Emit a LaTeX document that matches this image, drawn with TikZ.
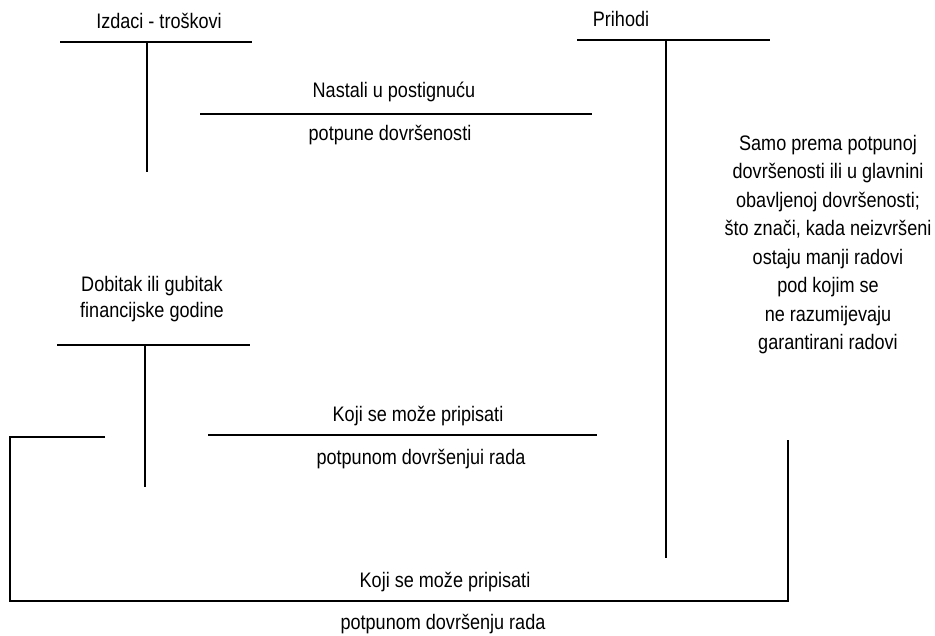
\documentclass[tikz,border=0pt]{standalone}
\usepackage{fontspec}
\setmainfont{Liberation Sans}[FakeStretch=0.86]
\begin{document}
\begin{tikzpicture}[x=1pt,y=-1pt,
  lbl/.style={anchor=base,inner sep=0pt,font=\fontsize{21}{28.5}\selectfont},
  blk/.style={lbl,align=center,anchor=north},
  rule/.style={line width=1.1pt,line cap=butt}]
\useasboundingbox[fill=white] (0,0) rectangle (935,635);

% headings and labels
\node[lbl] (izdaci)  at (159,28)  {Izdaci - troškovi};
\node[lbl] (prihodi) at (621,26)  {Prihodi};
\node[lbl] (nastali) at (394,97)  {Nastali u postignuću};
\node[lbl] (potpune) at (390,140) {potpune dovršenosti};
\node[blk] (samo)    at (828,135) {Samo prema potpunoj\\dovršenosti ili u glavnini\\obavljenoj dovršenosti;\\što znači, kada neizvršeni\\ostaju manji radovi\\pod kojim se\\ne razumijevaju\\garantirani radovi};
\node[lbl] (dobitak) at (152,291) {Dobitak ili gubitak};
\node[lbl] (financ)  at (152,317) {financijske godine};
\node[lbl] (koji1)   at (418,421) {Koji se može pripisati};
\node[lbl] (potp1)   at (421,464) {potpunom dovršenjui rada};
\node[lbl] (koji2)   at (445,587) {Koji se može pripisati};
\node[lbl] (potp2)   at (443,629) {potpunom dovršenju rada};

% T-account: expenses
\coordinate (t1l) at (60,42);  \coordinate (t1r) at (252,42);
\coordinate (t1m) at (147,42); \coordinate (t1b) at (147,172);
\draw[rule] (t1l) -- (t1r);
\draw[rule] (t1m) -- (t1b);

% T-account: revenues
\coordinate (t2l) at (577,40);  \coordinate (t2r) at (770,40);
\coordinate (t2m) at (666,40);  \coordinate (t2b) at (666,558);
\draw[rule] (t2l) -- (t2r);
\draw[rule] (t2m) -- (t2b);

% T-account: profit or loss
\coordinate (t3l) at (57,345);  \coordinate (t3r) at (250,345);
\coordinate (t3m) at (145,345); \coordinate (t3b) at (145,487);
\draw[rule] (t3l) -- (t3r);
\draw[rule] (t3m) -- (t3b);

% transfer lines
\coordinate (n1) at (200,114); \coordinate (n2) at (592,114);
\draw[rule] (n1) -- (n2);
\coordinate (k1) at (208,435); \coordinate (k2) at (597,435);
\draw[rule] (k1) -- (k2);

% outer bracket
\coordinate (b1) at (105,437); \coordinate (b2) at (10,437);
\coordinate (b3) at (10,601);  \coordinate (b4) at (788,601);
\coordinate (b5) at (788,440);
\draw[rule] (b1) -- (b2) -- (b3) -- (b4) -- (b5);
\end{tikzpicture}
\end{document}
